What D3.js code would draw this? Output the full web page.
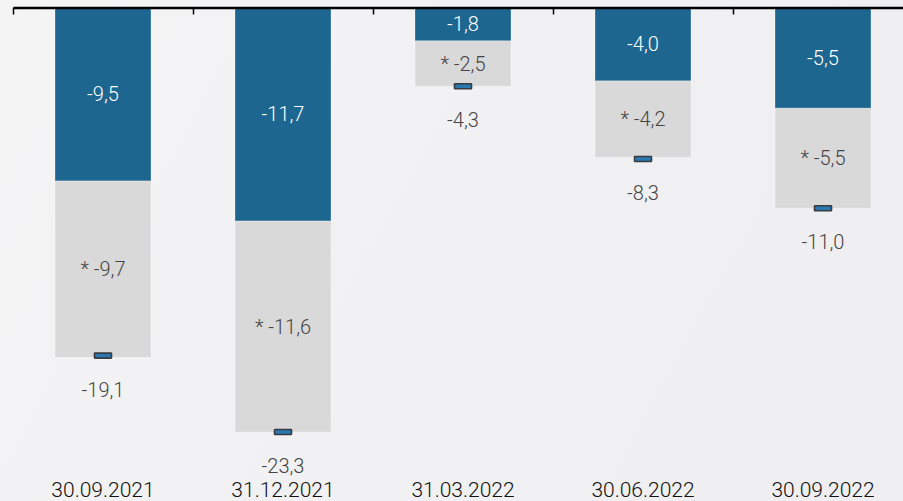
<!DOCTYPE html>
<html>
<head>
<meta charset="utf-8">
<script src="https://cdn.jsdelivr.net/npm/d3@7"></script>
<style>
  html, body { margin: 0; padding: 0; background: #f1f0f2; }
  svg { display: block; }
</style>
</head>
<body>
<svg id="chart" width="903" height="501"></svg>
<script>
const categories = ["30.09.2021", "31.12.2021", "31.03.2022", "30.06.2022", "30.09.2022"];
const blueValues = [-9.5, -11.7, -1.8, -4.0, -5.5];
const grayValues = [-9.7, -11.6, -2.5, -4.2, -5.5];
const totalValues = [-19.1, -23.3, -4.3, -8.3, -11.0];

const W = 903, H = 501;
const svg = d3.select("#chart");

// background
const defs = svg.append("defs");
const grad = defs.append("linearGradient").attr("id", "bg").attr("x1", "0").attr("y1", "0").attr("x2", "1").attr("y2", "0.3");
grad.append("stop").attr("offset", "0").attr("stop-color", "#f4f4f5");
grad.append("stop").attr("offset", "1").attr("stop-color", "#efeef1");
svg.append("rect").attr("width", W).attr("height", H).attr("fill", "url(#bg)");

const fmt = v => d3.format(".1f")(v).replace("−", "-").replace(".", ",");

const x = d3.scaleBand().domain(categories).range([13, 913]).paddingInner(0.4667).paddingOuter(0.2333);
const y = d3.scaleLinear().domain([0, -25]).range([8, 463]);

const data = categories.map((c, i) => ({
  c, blue: blueValues[i], gray: grayValues[i], total: totalValues[i]
}));

const g = svg.append("g");

// gray segment
g.selectAll("rect.gray").data(data).join("rect")
  .attr("class", "gray")
  .attr("x", d => x(d.c))
  .attr("width", x.bandwidth())
  .attr("y", d => y(d.blue))
  .attr("height", d => y(d.blue + d.gray) - y(d.blue))
  .attr("fill", "#d9d9d9")
  .attr("stroke", "#ffffff").attr("stroke-opacity", 0.35).attr("stroke-width", 1);

// blue segment
g.selectAll("rect.blue").data(data).join("rect")
  .attr("class", "blue")
  .attr("x", d => x(d.c))
  .attr("width", x.bandwidth())
  .attr("y", y(0))
  .attr("height", d => y(d.blue) - y(0))
  .attr("fill", "#1d668f")
  .attr("stroke", "#ffffff").attr("stroke-opacity", 0.3).attr("stroke-width", 1);

// markers at totals
g.selectAll("rect.marker").data(data).join("rect")
  .attr("class", "marker")
  .attr("x", d => x(d.c) + x.bandwidth() / 2 - 8.5)
  .attr("width", 17)
  .attr("y", d => y(d.total) - 2.5)
  .attr("height", 5)
  .attr("rx", 0.5)
  .attr("fill", "#2a78b0")
  .attr("stroke", "#383c40").attr("stroke-width", 1.6);

const font = "Roboto, 'Noto Sans', sans-serif";

// blue labels
g.selectAll("text.bl").data(data).join("text")
  .attr("class", "bl")
  .attr("x", d => x(d.c) + x.bandwidth() / 2)
  .attr("y", d => (y(0) + y(d.blue)) / 2)
  .attr("dy", "0.35em")
  .attr("text-anchor", "middle")
  .attr("font-family", font).attr("font-weight", 300).attr("font-size", 20)
  .attr("fill", "#ffffff")
  .text(d => fmt(d.blue));

// gray labels
g.selectAll("text.gl").data(data).join("text")
  .attr("class", "gl")
  .attr("x", d => x(d.c) + x.bandwidth() / 2)
  .attr("y", d => (y(d.blue) + y(d.blue + d.gray)) / 2)
  .attr("dy", "0.35em")
  .attr("text-anchor", "middle")
  .attr("font-family", font).attr("font-weight", 300).attr("font-size", 20)
  .attr("fill", "#454545")
  .text(d => "* " + fmt(d.gray));

// total labels
g.selectAll("text.tl").data(data).join("text")
  .attr("class", "tl")
  .attr("x", d => x(d.c) + x.bandwidth() / 2)
  .attr("y", d => y(d.total) + 34)
  .attr("dy", "0.35em")
  .attr("text-anchor", "middle")
  .attr("font-family", font).attr("font-weight", 300).attr("font-size", 20)
  .attr("fill", "#454545")
  .text(d => fmt(d.total));

// category labels
g.selectAll("text.cat").data(data).join("text")
  .attr("class", "cat")
  .attr("x", d => x(d.c) + x.bandwidth() / 2)
  .attr("y", 497)
  .attr("text-anchor", "middle")
  .attr("font-family", font).attr("font-weight", 300).attr("font-size", 21)
  .attr("fill", "#111111")
  .text(d => d.c);

// top axis with ticks at band boundaries
const bx = d3.scaleLinear().domain([0, categories.length]).range([13, 913]);
const axis = d3.axisBottom(bx).tickValues(d3.range(categories.length + 1)).tickFormat("").tickSizeInner(7).tickSizeOuter(0);
const ag = svg.append("g").attr("transform", "translate(0,7.5)").call(axis);
ag.select(".domain").attr("stroke", "#000").attr("stroke-width", 2.5);
ag.selectAll(".tick line").attr("stroke", "#000").attr("stroke-width", 1.5);
</script>
</body>
</html>
